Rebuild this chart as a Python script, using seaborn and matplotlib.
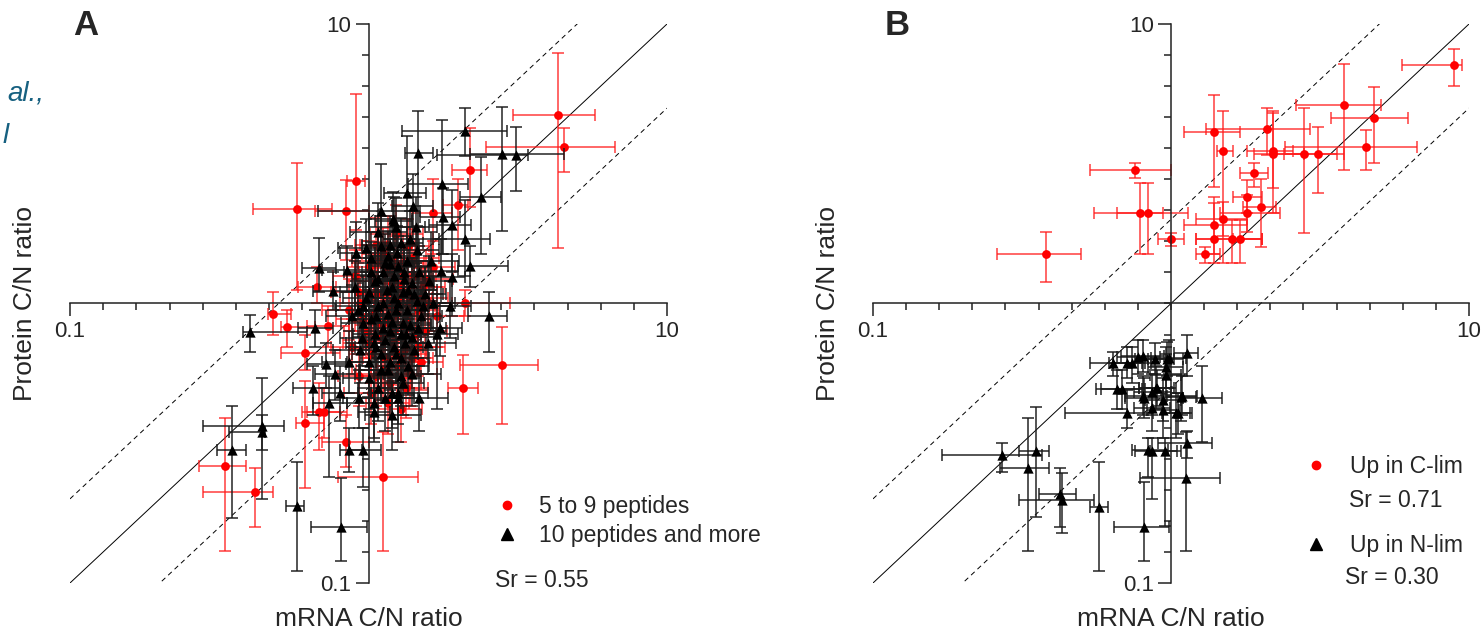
import matplotlib.pyplot as plt
import numpy as np
import pandas as pd
import seaborn as sns
from matplotlib.lines import Line2D
from matplotlib.ticker import NullFormatter

sns.set_style("ticks")
plt.rcParams['font.family'] = ['Liberation Sans', 'DejaVu Sans']

# ---- Panel A: 5 to 9 peptides (red circles) ----
a_red_x = [4.33, 4.53, 2.18, 0.905, 0.578, 0.84, 2.00, 1.64, 2.81, 2.08,
           1.12, 0.477, 0.535, 0.615, 0.615, 0.33, 0.418, 0.84, 0.68, 0.71,
           2.10, 0.67, 0.73,
           1.00, 1.12, 1.20, 1.30, 1.42, 1.08, 1.18, 1.28, 1.38, 1.52,
           0.94, 1.04, 1.14, 1.24, 1.34, 1.46, 0.98, 1.10, 1.22, 1.32,
           1.44, 1.02, 1.14, 1.26, 1.40, 1.06, 1.18, 1.34, 1.60, 1.55,
           0.90, 1.22, 1.36, 1.06, 0.88, 1.50, 1.65, 0.93, 1.16, 1.28,
           1.04, 1.14, 1.26, 1.36, 1.10, 1.20, 1.30, 0.96, 1.00, 1.12,
           1.28, 1.46, 1.50, 1.16, 0.92, 1.40, 1.24, 1.02, 1.38, 1.70,
           0.86, 1.08, 1.32, 1.18, 1.56]
a_red_x_lo = [3.04, 2.47, 1.90, 0.85, 0.41, 0.66, 1.78, 1.40, 2.03, 1.85,
              0.79, 0.46, 0.51, 0.51, 0.57, 0.27, 0.278, 0.70, 0.60, 0.62,
              1.20, 0.58, 0.62,
              0.85, 0.95, 1.02, 1.10, 1.20, 0.92, 1.00, 1.08, 1.17, 1.28,
              0.80, 0.88, 0.97, 1.05, 1.13, 1.23, 0.83, 0.93, 1.03, 1.12,
              1.22, 0.86, 0.96, 1.07, 1.18, 0.90, 1.00, 1.13, 1.35, 1.31,
              0.76, 1.03, 1.15, 0.90, 0.75, 1.27, 1.40, 0.79, 0.98, 1.08,
              0.85, 0.93, 1.03, 1.11, 0.90, 0.98, 1.06, 0.78, 0.82, 0.91,
              1.04, 1.19, 1.22, 0.94, 0.75, 1.14, 1.01, 0.83, 1.12, 1.38,
              0.70, 0.88, 1.07, 0.96, 1.27]
a_red_x_hi = [5.76, 6.67, 2.50, 0.97, 0.757, 1.00, 2.15, 1.90, 3.69, 2.32,
              1.46, 0.55, 0.66, 0.80, 0.71, 0.39, 0.48, 1.00, 0.80, 0.85,
              2.98, 0.78, 0.86,
              1.18, 1.32, 1.42, 1.54, 1.68, 1.27, 1.39, 1.51, 1.63, 1.80,
              1.11, 1.23, 1.34, 1.46, 1.58, 1.72, 1.16, 1.30, 1.44, 1.56,
              1.70, 1.20, 1.34, 1.49, 1.65, 1.25, 1.39, 1.58, 1.90, 1.83,
              1.06, 1.44, 1.60, 1.25, 1.04, 1.77, 1.95, 1.10, 1.37, 1.51,
              1.28, 1.40, 1.55, 1.67, 1.35, 1.47, 1.60, 1.18, 1.23, 1.38,
              1.57, 1.80, 1.85, 1.43, 1.13, 1.72, 1.52, 1.25, 1.70, 2.09,
              1.06, 1.33, 1.62, 1.45, 1.92]
a_red_y = [4.72, 3.63, 3.00, 2.74, 2.18, 2.14, 2.25, 2.10, 0.603, 0.50,
           0.24, 0.916, 0.824, 0.665, 0.373, 0.262, 0.212, 0.32, 0.41, 0.41,
           1.00, 1.15, 0.83,
           1.35, 1.50, 1.18, 1.40, 1.25, 1.08, 0.98, 1.15, 1.05, 1.15,
           1.00, 0.92, 0.86, 0.92, 0.88, 0.95, 0.80, 0.76, 0.80, 0.68,
           0.78, 0.66, 0.64, 0.60, 0.64, 0.55, 0.52, 0.50, 1.00, 0.80,
           1.25, 1.40, 1.60, 1.62, 0.70, 0.62, 1.35, 0.55, 0.44, 0.42,
           1.20, 1.30, 1.05, 0.98, 0.84, 0.72, 0.82, 0.88, 0.72, 0.58,
           0.66, 0.70, 1.05, 1.62, 1.10, 1.45, 1.78, 0.48, 0.56, 0.90,
           0.95, 1.42, 1.25, 0.92, 1.22]
a_red_y_lo = [1.58, 2.95, 2.21, 1.83, 1.12, 1.43, 1.56, 1.50, 0.371, 0.341,
              0.13, 0.77, 0.70, 0.58, 0.219, 0.13, 0.158, 0.26, 0.30, 0.33,
              0.90, 1.00, 0.70,
              1.08, 1.20, 0.95, 1.12, 1.00, 0.86, 0.78, 0.92, 0.84, 0.92,
              0.80, 0.73, 0.68, 0.73, 0.70, 0.76, 0.64, 0.60, 0.64, 0.54,
              0.62, 0.52, 0.50, 0.47, 0.50, 0.43, 0.40, 0.39, 0.80, 0.64,
              1.00, 1.12, 1.28, 1.30, 0.56, 0.49, 1.08, 0.43, 0.34, 0.32,
              0.94, 1.02, 0.82, 0.77, 0.66, 0.56, 0.64, 0.69, 0.56, 0.45,
              0.51, 0.55, 0.82, 1.27, 0.86, 1.14, 1.40, 0.37, 0.43, 0.70,
              0.74, 1.12, 0.98, 0.72, 0.96]
a_red_y_hi = [7.87, 4.25, 4.25, 5.62, 3.18, 2.77, 2.79, 2.80, 0.824, 0.655,
              0.347, 1.10, 0.95, 0.77, 0.53, 0.39, 0.258, 0.40, 0.52, 0.50,
              1.12, 1.35, 0.98,
              1.68, 1.86, 1.46, 1.74, 1.55, 1.34, 1.22, 1.42, 1.30, 1.42,
              1.24, 1.15, 1.07, 1.15, 1.10, 1.18, 1.00, 0.95, 1.00, 0.85,
              0.97, 0.82, 0.80, 0.75, 0.80, 0.70, 0.66, 0.64, 1.25, 1.00,
              1.56, 1.75, 2.00, 2.02, 0.88, 0.78, 1.68, 0.70, 0.56, 0.54,
              1.52, 1.66, 1.34, 1.25, 1.07, 0.92, 1.05, 1.12, 0.92, 0.74,
              0.85, 0.90, 1.34, 2.06, 1.40, 1.85, 2.26, 0.62, 0.72, 1.15,
              1.22, 1.80, 1.60, 1.17, 1.56]

# ---- Panel A: 10 peptides and more (black triangles) ----
a_blk_x = [2.10, 2.79, 3.13, 1.47, 1.105, 1.35, 1.76, 2.39, 1.91, 2.10,
           2.18, 1.77, 1.41, 1.21, 1.44, 1.75, 1.90, 2.54, 1.26, 1.70,
           0.40, 0.44, 0.44, 0.35, 0.574, 0.81, 0.86, 0.955, 0.68, 0.76,
           0.85, 0.91, 1.22, 0.65, 0.74, 0.80, 0.66, 0.72, 0.77, 0.93,
           1.04, 1.65, 1.87, 1.73,
           1.02, 1.10, 1.18, 1.25, 1.32, 1.05, 1.15, 1.22, 1.30, 1.40,
           0.98, 1.08, 1.16, 1.26, 1.35, 1.45, 1.55, 1.02, 1.12, 1.20,
           1.28, 1.38, 1.50, 0.95, 1.06, 1.14, 1.24, 1.33, 1.42, 1.00,
           1.10, 1.18, 1.28, 1.36, 1.08, 1.20, 1.30, 0.92, 0.90, 1.48,
           1.60, 1.35, 1.12, 0.96, 1.22, 1.05, 1.40, 1.16, 1.28, 1.45,
           1.00, 1.06, 1.12, 1.18, 1.24, 1.30, 1.36, 1.04, 1.10, 1.16,
           1.22, 1.28, 1.34, 0.96, 1.08, 1.14, 1.20, 1.26, 1.02, 0.94,
           1.00, 1.14, 1.26, 1.40, 1.46, 1.52, 1.42, 1.32, 1.18, 1.38,
           0.98, 1.08, 1.24, 0.88, 0.86, 1.58, 1.62, 1.20, 1.04, 1.48]
a_blk_x_lo = [1.29, 2.18, 1.70, 1.33, 0.675, 1.13, 1.36, 2.03, 1.60, 1.65,
              1.99, 1.49, 1.20, 1.00, 1.20, 1.50, 1.60, 2.16, 1.10, 1.40,
              0.38, 0.28, 0.34, 0.31, 0.53, 0.64, 0.80, 0.86, 0.60, 0.65,
              0.70, 0.80, 1.05, 0.56, 0.65, 0.70, 0.58, 0.62, 0.66, 0.82,
              0.92, 1.40, 1.60, 1.45,
              0.88, 0.95, 1.00, 1.05, 1.12, 0.90, 0.96, 1.04, 1.10, 1.18,
              0.82, 0.92, 0.98, 1.06, 1.15, 1.22, 1.30, 0.86, 0.95, 1.02,
              1.08, 1.16, 1.26, 0.80, 0.90, 0.97, 1.05, 1.12, 1.20, 0.85,
              0.93, 1.00, 1.08, 1.15, 0.92, 1.02, 1.10, 0.78, 0.76, 1.25,
              1.35, 1.14, 0.95, 0.81, 1.03, 0.89, 1.18, 0.98, 1.08, 1.22,
              0.80, 0.86, 0.90, 0.95, 1.00, 1.05, 1.10, 0.84, 0.88, 0.94,
              0.98, 1.03, 1.08, 0.78, 0.88, 0.92, 0.97, 1.02, 0.83, 0.76,
              0.82, 0.92, 1.02, 1.13, 1.18, 1.23, 1.15, 1.07, 0.95, 1.12,
              0.79, 0.87, 1.00, 0.72, 0.70, 1.28, 1.31, 0.97, 0.85, 1.20]
a_blk_x_hi = [2.90, 4.53, 3.41, 1.65, 1.49, 1.56, 2.15, 2.77, 2.20, 2.56,
              2.94, 2.03, 1.65, 1.40, 1.70, 2.00, 2.10, 2.92, 1.46, 2.00,
              0.62, 0.52, 0.45, 0.39, 0.61, 0.985, 0.95, 1.10, 0.78, 0.90,
              1.00, 1.05, 1.40, 0.80, 0.85, 0.92, 0.76, 0.84, 0.90, 1.05,
              1.18, 1.95, 2.20, 2.05,
              1.20, 1.28, 1.40, 1.45, 1.55, 1.22, 1.36, 1.42, 1.52, 1.66,
              1.15, 1.26, 1.36, 1.48, 1.58, 1.70, 1.82, 1.20, 1.32, 1.40,
              1.50, 1.62, 1.76, 1.12, 1.25, 1.34, 1.46, 1.56, 1.68, 1.18,
              1.30, 1.38, 1.50, 1.60, 1.27, 1.42, 1.54, 1.08, 1.06, 1.75,
              1.90, 1.60, 1.32, 1.13, 1.44, 1.24, 1.66, 1.37, 1.52, 1.72,
              1.25, 1.32, 1.40, 1.48, 1.55, 1.62, 1.70, 1.30, 1.38, 1.45,
              1.52, 1.60, 1.68, 1.20, 1.34, 1.42, 1.50, 1.58, 1.27, 1.17,
              1.24, 1.42, 1.58, 1.75, 1.82, 1.90, 1.78, 1.65, 1.48, 1.72,
              1.22, 1.35, 1.55, 1.09, 1.06, 1.96, 2.01, 1.50, 1.28, 1.84]
a_blk_y = [4.14, 3.43, 3.40, 3.45, 2.14, 2.49, 2.68, 2.40, 1.91, 1.70,
           1.36, 2.04, 2.23, 2.00, 1.88, 1.31, 1.24, 0.90, 0.459, 0.78,
           0.79, 0.365, 0.347, 0.30, 0.189, 0.158, 0.30, 0.30, 1.34, 1.11,
           1.32, 1.52, 1.98, 0.50, 0.44, 0.48, 0.82, 0.61, 0.56, 0.46,
           0.41, 1.00, 0.98, 0.82,
           1.45, 1.60, 1.38, 1.52, 1.30, 1.20, 1.12, 1.25, 1.10, 1.18,
           1.05, 0.98, 0.92, 1.00, 0.95, 1.02, 1.08, 0.88, 0.82, 0.86,
           0.78, 0.84, 0.90, 0.75, 0.70, 0.74, 0.66, 0.72, 0.68, 0.62,
           0.58, 0.62, 0.55, 0.60, 0.50, 0.48, 0.52, 0.95, 1.15, 1.30,
           1.20, 1.42, 1.30, 0.85, 1.05, 0.78, 0.76, 1.48, 1.65, 1.55,
           1.10, 0.90, 1.00, 0.80, 0.95, 0.85, 1.12, 0.72, 0.66, 0.58,
           0.70, 0.64, 0.78, 0.98, 1.22, 1.40, 1.15, 1.36, 1.30, 0.68,
           0.54, 0.46, 0.48, 0.56, 0.82, 0.98, 1.08, 1.22, 1.62, 1.70,
           1.58, 1.80, 1.88, 0.90, 0.62, 0.72, 1.42, 0.40, 0.44, 0.46]
a_blk_y_lo = [3.37, 1.82, 2.53, 1.00, 1.43, 1.60, 1.50, 1.50, 1.30, 1.25,
              1.15, 1.50, 1.70, 1.60, 1.40, 1.00, 0.90, 0.67, 0.32, 0.42,
              0.67, 0.30, 0.20, 0.171, 0.11, 0.12, 0.25, 0.22, 1.10, 0.95,
              1.10, 1.20, 1.60, 0.40, 0.24, 0.38, 0.70, 0.50, 0.45, 0.36,
              0.32, 0.80, 0.75, 0.65,
              1.15, 1.30, 1.10, 1.25, 1.05, 0.98, 0.90, 1.02, 0.88, 0.95,
              0.85, 0.78, 0.74, 0.80, 0.76, 0.82, 0.88, 0.70, 0.65, 0.68,
              0.62, 0.66, 0.72, 0.60, 0.55, 0.58, 0.52, 0.57, 0.54, 0.48,
              0.45, 0.49, 0.43, 0.47, 0.38, 0.36, 0.40, 0.76, 0.92, 1.05,
              0.96, 1.15, 1.05, 0.68, 0.84, 0.62, 0.60, 1.20, 1.35, 1.26,
              0.85, 0.70, 0.78, 0.62, 0.74, 0.66, 0.88, 0.56, 0.50, 0.44,
              0.54, 0.50, 0.60, 0.76, 0.96, 1.10, 0.90, 1.06, 1.02, 0.52,
              0.42, 0.35, 0.37, 0.43, 0.64, 0.77, 0.85, 0.96, 1.28, 1.35,
              1.25, 1.42, 1.48, 0.70, 0.48, 0.56, 1.12, 0.30, 0.33, 0.35]
a_blk_y_hi = [5.00, 5.05, 4.28, 4.89, 3.16, 3.98, 4.54, 3.34, 2.55, 2.34,
              1.60, 2.60, 2.90, 2.50, 2.40, 1.70, 1.50, 1.10, 0.60, 1.00,
              0.91, 0.54, 0.40, 0.43, 0.271, 0.238, 0.36, 0.36, 1.71, 1.30,
              1.60, 1.95, 2.40, 0.60, 0.55, 0.60, 0.95, 0.72, 0.68, 0.58,
              0.52, 1.25, 1.20, 1.00,
              1.80, 2.05, 1.70, 1.90, 1.62, 1.48, 1.40, 1.55, 1.36, 1.45,
              1.30, 1.22, 1.14, 1.25, 1.18, 1.28, 1.35, 1.10, 1.02, 1.08,
              0.98, 1.06, 1.12, 0.94, 0.88, 0.92, 0.82, 0.90, 0.85, 0.78,
              0.72, 0.78, 0.70, 0.75, 0.64, 0.62, 0.66, 1.18, 1.42, 1.60,
              1.48, 1.75, 1.60, 1.06, 1.30, 0.97, 0.95, 1.82, 2.02, 1.90,
              1.45, 1.18, 1.30, 1.05, 1.22, 1.10, 1.45, 0.94, 0.86, 0.76,
              0.90, 0.84, 1.00, 1.26, 1.56, 1.78, 1.48, 1.74, 1.66, 0.88,
              0.70, 0.60, 0.62, 0.72, 1.05, 1.25, 1.38, 1.56, 2.05, 2.15,
              2.00, 2.28, 2.38, 1.16, 0.80, 0.92, 1.80, 0.53, 0.58, 0.60]

# ---- Panel B: up in C-lim (red circles) ----
b_red_x = [0.381, 0.757, 0.787, 0.837, 1.00, 1.30, 1.39, 1.39, 1.49, 1.39,
           1.49, 1.60, 1.70, 1.80, 1.80, 1.90, 2.00, 2.10, 2.20, 2.20,
           2.79, 3.11, 3.81, 4.51, 4.80, 8.92]
b_red_x_lo = [0.26, 0.535, 0.552, 0.66, 0.905, 1.21, 1.21, 1.105, 1.21, 1.105,
              1.43, 1.21, 1.61, 1.61, 1.46, 1.71, 1.75, 1.31, 1.80, 1.90,
              2.20, 2.40, 2.63, 2.41, 3.44, 5.96]
b_red_x_hi = [0.50, 1.00, 0.94, 1.14, 1.105, 1.46, 2.02, 1.80, 1.80, 1.70,
              1.61, 2.02, 2.02, 2.02, 2.32, 2.12, 2.25, 2.93, 2.57, 2.80,
              3.60, 3.80, 5.06, 6.70, 6.23, 9.50]
b_red_y = [1.50, 3.00, 2.11, 2.11, 1.70, 1.50, 1.70, 1.91, 2.00, 4.11,
           3.51, 1.70, 1.70, 2.40, 2.11, 2.93, 2.21, 4.21, 3.51, 3.43,
           3.43, 3.43, 5.13, 3.63, 4.61, 7.13]
b_red_y_lo = [1.19, 2.81, 1.50, 1.50, 1.61, 1.40, 1.40, 1.50, 1.75, 2.61,
              1.40, 1.40, 1.40, 2.10, 1.80, 2.61, 1.59, 3.40, 2.10, 2.60,
              1.79, 2.49, 3.00, 3.00, 3.18, 6.00]
b_red_y_hi = [1.80, 3.18, 2.70, 2.70, 1.79, 1.59, 2.29, 2.40, 2.30, 5.57,
              4.89, 1.99, 1.99, 2.77, 2.45, 3.18, 2.79, 5.00, 4.89, 4.80,
              5.00, 4.28, 7.19, 4.18, 5.96, 8.15]

# ---- Panel B: up in N-lim (black triangles) ----
b_blk_x = [0.271, 0.353, 0.331, 0.424, 0.43, 0.574, 0.81, 1.12, 1.13, 0.837,
           0.863, 0.955, 1.27, 0.712, 0.64, 0.712, 0.74, 0.775, 0.806, 0.884,
           0.97, 0.985, 1.13, 0.962, 0.962, 0.66, 0.685, 0.89, 0.806, 0.863,
           0.898, 0.863, 0.94, 0.94, 1.04, 1.055, 1.09, 1.08, 0.81]
b_blk_x_lo = [0.171, 0.31, 0.267, 0.36, 0.31, 0.535, 0.644, 0.787, 0.905, 0.74,
              0.76, 0.85, 1.10, 0.44, 0.535, 0.62, 0.64, 0.66, 0.68, 0.76,
              0.84, 0.86, 1.02, 0.84, 0.85, 0.56, 0.58, 0.78, 0.70, 0.75,
              0.78, 0.75, 0.82, 0.83, 0.93, 0.94, 0.97, 0.96, 0.70]
b_blk_x_hi = [0.369, 0.39, 0.39, 0.48, 0.55, 0.615, 0.985, 1.46, 1.37, 0.98,
              1.05, 1.08, 1.48, 0.87, 0.80, 0.82, 0.86, 0.92, 0.95, 1.02,
              1.10, 1.12, 1.23, 1.10, 1.08, 0.80, 0.82, 1.02, 0.93, 1.00,
              1.04, 0.99, 1.08, 1.06, 1.16, 1.18, 1.22, 1.21, 0.94]
b_blk_y = [0.287, 0.297, 0.258, 0.208, 0.198, 0.187, 0.158, 0.238, 0.317, 0.299,
           0.297, 0.297, 0.459, 0.405, 0.612, 0.612, 0.612, 0.644, 0.649, 0.633,
           0.633, 0.637, 0.665, 0.593, 0.554, 0.494, 0.494, 0.50, 0.467, 0.482,
           0.50, 0.423, 0.452, 0.416, 0.406, 0.406, 0.467, 0.464, 0.459]
b_blk_y_lo = [0.25, 0.172, 0.13, 0.158, 0.151, 0.11, 0.12, 0.13, 0.28, 0.24,
              0.20, 0.16, 0.319, 0.36, 0.55, 0.54, 0.52, 0.56, 0.57, 0.56,
              0.55, 0.56, 0.55, 0.50, 0.47, 0.42, 0.42, 0.42, 0.40, 0.40,
              0.43, 0.35, 0.38, 0.33, 0.33, 0.34, 0.40, 0.38, 0.39]
b_blk_y_hi = [0.317, 0.427, 0.39, 0.258, 0.247, 0.27, 0.23, 0.347, 0.35, 0.33,
              0.33, 0.33, 0.597, 0.49, 0.67, 0.70, 0.70, 0.74, 0.74, 0.72,
              0.73, 0.74, 0.77, 0.70, 0.66, 0.58, 0.58, 0.60, 0.55, 0.56,
              0.58, 0.50, 0.54, 0.50, 0.48, 0.48, 0.55, 0.56, 0.54]

fold_lines = [1, 2, 0.5]
axis_range = [0.1, 10]

RED = '#ff0000'
RED_BAR = (1.0, 0.1, 0.1, 0.78)
BLK_BAR = (0.1, 0.1, 0.1, 0.88)


def draw_series(ax, x, xlo, xhi, y, ylo, yhi, color, bar_color, marker, size, z):
    df = pd.DataFrame({'x': x, 'xlo': xlo, 'xhi': xhi,
                       'y': y, 'ylo': ylo, 'yhi': yhi})
    xerr = [np.maximum(df.x - df.xlo, 0), np.maximum(df.xhi - df.x, 0)]
    yerr = [np.maximum(df.y - df.ylo, 0), np.maximum(df.yhi - df.y, 0)]
    ax.errorbar(df.x, df.y, xerr=xerr, yerr=yerr, fmt='none', ecolor=bar_color,
                elinewidth=1.2, capsize=4, capthick=1.2, zorder=z)
    sns.scatterplot(data=df, x='x', y='y', ax=ax, color=color, marker=marker,
                    s=size, linewidth=0, zorder=z + 0.5, legend=False)


def style_axes(ax):
    ax.set_xscale('log')
    ax.set_yscale('log')
    for fold, ls in zip(fold_lines, ['-', (0, (5, 4)), (0, (5, 4))]):
        ax.plot(axis_range, [v * fold for v in axis_range], color='black',
                lw=0.7, ls=ls, zorder=1)
    ax.set_xlim(axis_range)
    ax.set_ylim(axis_range)
    for side in ['top', 'right']:
        ax.spines[side].set_visible(False)
    ax.spines['left'].set_position(('data', 1))
    ax.spines['bottom'].set_position(('data', 1))
    for side in ['left', 'bottom']:
        ax.spines[side].set_linewidth(1.1)
        ax.spines[side].set_color('#222222')
    minor = [10 ** (k / 9) for k in range(-8, 9)]
    ax.set_xticks(axis_range)
    ax.set_yticks(axis_range)
    ax.set_xticks(minor, minor=True)
    ax.set_yticks(minor, minor=True)
    ax.set_xticklabels(['0.1', '10'])
    ax.set_yticklabels(['0.1', '10'])
    ax.xaxis.set_minor_formatter(NullFormatter())
    ax.yaxis.set_minor_formatter(NullFormatter())
    ax.tick_params(which='major', direction='out', length=9.5, width=1.1,
                   labelsize=16, pad=3, color='#222222')
    ax.tick_params(which='minor', direction='out', length=5, width=1.1,
                   color='#222222')
    ax.set_xlabel('mRNA C/N ratio', fontsize=19)
    ax.set_ylabel('Protein C/N ratio', fontsize=19)
    ax.xaxis.set_label_coords(0.5, -0.043)
    ax.yaxis.set_label_coords(-0.055, 0.5)


fig = plt.figure(figsize=(14.84, 6.34), dpi=100)
ax1 = fig.add_axes([70 / 1484, 1 - 583 / 634, 597 / 1484, 559 / 634])
ax2 = fig.add_axes([873 / 1484, 1 - 583 / 634, 596 / 1484, 559 / 634])

style_axes(ax1)
draw_series(ax1, a_red_x, a_red_x_lo, a_red_x_hi, a_red_y, a_red_y_lo, a_red_y_hi,
            RED, RED_BAR, 'o', 40, 2)
draw_series(ax1, a_blk_x, a_blk_x_lo, a_blk_x_hi, a_blk_y, a_blk_y_lo, a_blk_y_hi,
            'black', BLK_BAR, '^', 55, 3)

style_axes(ax2)
draw_series(ax2, b_red_x, b_red_x_lo, b_red_x_hi, b_red_y, b_red_y_lo, b_red_y_hi,
            RED, RED_BAR, 'o', 40, 2)
draw_series(ax2, b_blk_x, b_blk_x_lo, b_blk_x_hi, b_blk_y, b_blk_y_lo, b_blk_y_hi,
            'black', BLK_BAR, '^', 55, 3)

# legends
h_red = Line2D([], [], marker='o', color=RED, ls='none', markersize=6)
h_blk = Line2D([], [], marker='^', color='black', ls='none', markersize=8)
ax1.legend([h_red, h_blk], ['5 to 9 peptides', '10 peptides and more'],
           loc='upper left', bbox_to_anchor=(0.712, 0.157), frameon=False,
           fontsize=16.5, handlelength=1.0, handletextpad=0.9, labelspacing=0.25,
           borderpad=0, borderaxespad=0)
ax1.text(0.712, 0.004, 'Sr = 0.55', transform=ax1.transAxes, fontsize=16.5,
         ha='left', va='center')

ax2.legend([h_red, h_blk], ['Up in C-lim', 'Up in N-lim'],
           loc='upper left', bbox_to_anchor=(0.724, 0.229), frameon=False,
           fontsize=16.5, handlelength=1.0, handletextpad=0.98, labelspacing=2.45,
           borderpad=0, borderaxespad=0)
ax2.text(0.799, 0.148, 'Sr = 0.71', transform=ax2.transAxes, fontsize=16.5,
         ha='left', va='center')
ax2.text(0.792, 0.009, 'Sr = 0.30', transform=ax2.transAxes, fontsize=16.5,
         ha='left', va='center')

# panel letters
fig.text(73 / 1484, 1 - 35 / 634, 'A', fontsize=25, fontweight='bold', va='baseline')
fig.text(885 / 1484, 1 - 35 / 634, 'B', fontsize=25, fontweight='bold', va='baseline')

# citation fragment at the left edge
fig.text(44 / 1484, 1 - 100 / 634, 'al.,', ha='right', va='baseline',
         style='italic', fontsize=20, color='#166080')
fig.text(9 / 1484, 1 - 143 / 634, 'l', ha='right', va='baseline',
         style='italic', fontsize=20, color='#166080')

fig.savefig('out.png', dpi=100)
